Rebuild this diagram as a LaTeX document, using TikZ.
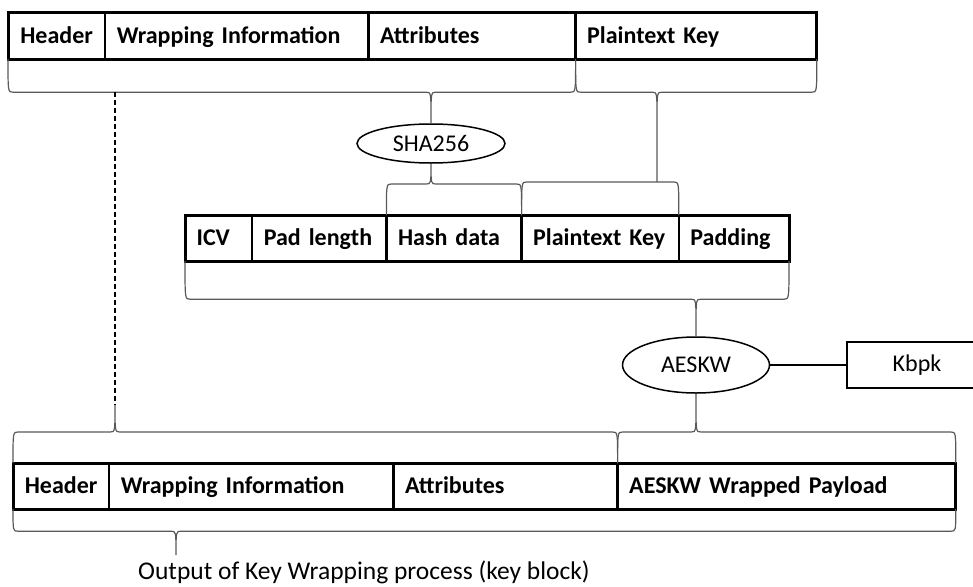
\documentclass[tikz,border=0pt]{standalone}
\usepackage{fontspec}
\setmainfont{Carlito}
\usetikzlibrary{positioning, shapes.geometric, calc}

\newcommand{\diagfont}{\fontsize{24}{28}\selectfont}
% curly brace from #1 to #2, tip at #3, level #4 away from the ends
\newcommand{\kbrace}[4]{%
  \draw[bracepen] let \p1=#1, \p2=#2, \p3=#3,
      \n1={\y1+(#4)}, \n2={ifthenelse(\y3<\n1,-1,1)}, \n3={min(28,abs(\y3-\n1))} in
    (\x1,\y1) .. controls (\x1,{\n1*1pt}) .. ({\x1+5pt},{\n1*1pt}) -- ({\x3-5pt},{\n1*1pt})
      .. controls (\x3,{\n1*1pt}) .. (\x3,{(\n1+\n2*\n3)*1pt}) -- (\x3,\y3)
    (\x2,\y1) .. controls (\x2,{\n1*1pt}) .. ({\x2-5pt},{\n1*1pt}) -- ({\x3+5pt},{\n1*1pt})
      .. controls (\x3,{\n1*1pt}) .. (\x3,{(\n1+\n2*\n3)*1pt});
}

\begin{document}
\begin{tikzpicture}[x=1pt, y=-1pt, font=\diagfont,
    cell/.style={draw, line width=1.2pt, minimum height=45pt, inner xsep=11pt, inner ysep=0pt,
      text height=18pt, text depth=3pt, align=left, font=\diagfont\bfseries},
    rowframe/.style={draw, line width=3pt},
    bracepen/.style={draw=black!65, line width=1.2pt},
    process/.style={ellipse, draw, line width=1.5pt, inner sep=0pt},
    link/.style={line width=1.8pt}]
  \useasboundingbox (0,0) rectangle (973,586);

  % input key block
  \node[cell, anchor=north west, text width=74pt, align=center] (hdrA) at (8,13) {Header};
  \node[cell, right=0pt of hdrA, text width=240pt] (wrapA) {Wrapping Information};
  \node[cell, right=0pt of wrapA, text width=184pt] (attrA) {Attributes};
  \node[cell, right=0pt of attrA, text width=218pt] (ptkA) {Plaintext Key};
  \draw[rowframe] (hdrA.north west) rectangle (ptkA.south east);

  \node[process, minimum width=148pt, minimum height=39pt] (sha) at (431,143.5) {SHA256};

  % payload before wrapping
  \node[cell, anchor=north west, text width=44pt] (icv) at (185,215) {ICV};
  \node[cell, right=0pt of icv, text width=111pt] (padlen) {Pad length};
  \node[cell, right=0pt of padlen, text width=112pt] (hash) {Hash data};
  \node[cell, right=0pt of hash, text width=134pt] (ptkB) {Plaintext Key};
  \node[cell, right=0pt of ptkB, text width=87pt] (pad) {Padding};
  \draw[rowframe] (icv.north west) rectangle (pad.south east);

  \node[process, minimum width=147pt, minimum height=56pt] (aeskw) at (696,365) {AESKW};
  \node[draw, line width=1.8pt, minimum width=140pt, minimum height=46pt] (kbpk) at (917,365) {Kbpk};
  \draw[link] (aeskw) -- (kbpk);

  % output key block
  \node[cell, anchor=north west, text width=73pt, align=center] (hdrC) at (13,463) {Header};
  \node[cell, right=0pt of hdrC, text width=261pt] (wrapC) {Wrapping Information};
  \node[cell, right=0pt of wrapC, text width=201pt] (attrC) {Attributes};
  \node[cell, right=0pt of attrC, text width=315pt] (payload) {AESKW Wrapped Payload};
  \draw[rowframe] (hdrC.north west) rectangle (payload.south east);

  \node[anchor=base west, inner sep=0pt, font=\fontsize{25.5}{30}\selectfont] (outlbl) at (138,579)
    {Output of Key Wrapping process (key block)};

  \coordinate (pkjoin) at (657,182);
  \coordinate (dashtop) at (115,92);
  \coordinate (hdrtip) at (115,405);
  \coordinate (outtip) at (176,555);

  \kbrace{(hdrA.south west)}{(attrA.south east)}{(sha.north)}{-33pt}
  \kbrace{(ptkA.south west)}{(ptkA.south east)}{(pkjoin)}{-33pt}
  \kbrace{(hash.north west)}{(hash.north east)}{(sha.south)}{31pt}
  \kbrace{(ptkB.north west)}{(ptkB.north east)}{(pkjoin)}{33pt}
  \kbrace{(icv.south west)}{(pad.south east)}{(aeskw.north)}{-38pt}
  \kbrace{(hdrC.north west)}{(attrC.north east)}{(hdrtip)}{31pt}
  \kbrace{(payload.north west)}{(payload.north east)}{(aeskw.south)}{31pt}
  \kbrace{(hdrC.south west)}{(payload.south east)}{(outtip)}{-22pt}
  \draw[line width=1.8pt, dash pattern=on 5pt off 3pt] (dashtop) -- (hdrtip);
\end{tikzpicture}
\end{document}
